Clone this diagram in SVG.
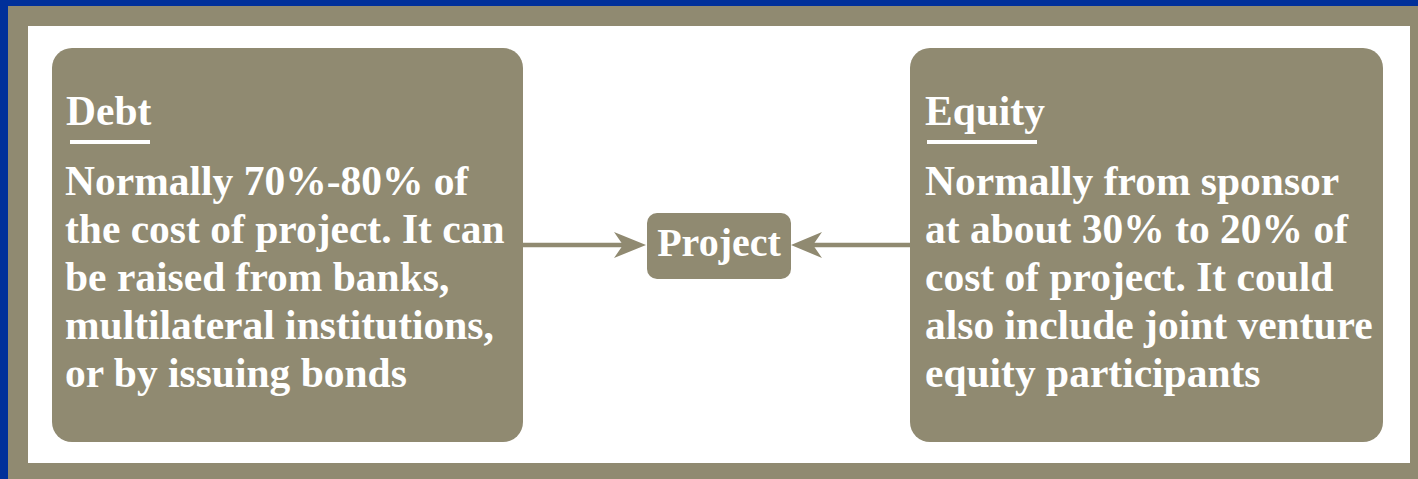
<svg xmlns="http://www.w3.org/2000/svg" width="1418" height="479" viewBox="0 0 1418 479">
  <style>
    .box { fill: #908a71; }
    .t { font-family: "Liberation Serif", "Times New Roman", serif; font-weight: bold; fill: #ffffff; font-size: 41.5px; }
    .ul { stroke: #ffffff; stroke-width: 4; }
    .conn { stroke: #908a71; stroke-width: 4.5; fill: none; }
    .head { fill: #908a71; }
  </style>
  <rect x="0" y="0" width="1418" height="479" fill="#00309a"/>
  <rect x="8" y="6" width="1410" height="473" fill="#908a71"/>
  <rect x="28" y="26" width="1382" height="437" fill="#ffffff"/>

  <g id="connectors">
    <line class="conn" x1="523" y1="245" x2="625" y2="245"/>
    <polygon class="head" points="646,245 614,232 623,245 614,258"/>
    <line class="conn" x1="910" y1="245" x2="810" y2="245"/>
    <polygon class="head" points="791,245 822,232 813,245 822,258"/>
  </g>

  <g id="debt">
    <rect class="box" x="52" y="48" width="471" height="394" rx="20"/>
    <text class="t" x="66" y="125">Debt</text>
    <line class="ul" x1="70" y1="142" x2="150" y2="142"/>
    <text class="t" x="65" y="195">Normally 70%-80% of</text>
    <text class="t" x="65" y="243">the cost of project. It can</text>
    <text class="t" x="65" y="291">be raised from banks,</text>
    <text class="t" x="65" y="339">multilateral institutions,</text>
    <text class="t" x="65" y="387">or by issuing bonds</text>
  </g>

  <g id="project">
    <rect class="box" x="647" y="213" width="144" height="66" rx="10"/>
    <text class="t" x="719" y="256" text-anchor="middle" style="font-size:40px">Project</text>
  </g>

  <g id="equity">
    <rect class="box" x="910" y="48" width="473" height="394" rx="20"/>
    <text class="t" x="925" y="125">Equity</text>
    <line class="ul" x1="927" y1="142" x2="1037" y2="142"/>
    <text class="t" x="925" y="195">Normally from sponsor</text>
    <text class="t" x="925" y="243">at about 30% to 20% of</text>
    <text class="t" x="925" y="291">cost of project. It could</text>
    <text class="t" x="925" y="339">also include joint venture</text>
    <text class="t" x="925" y="387">equity participants</text>
  </g>
</svg>
